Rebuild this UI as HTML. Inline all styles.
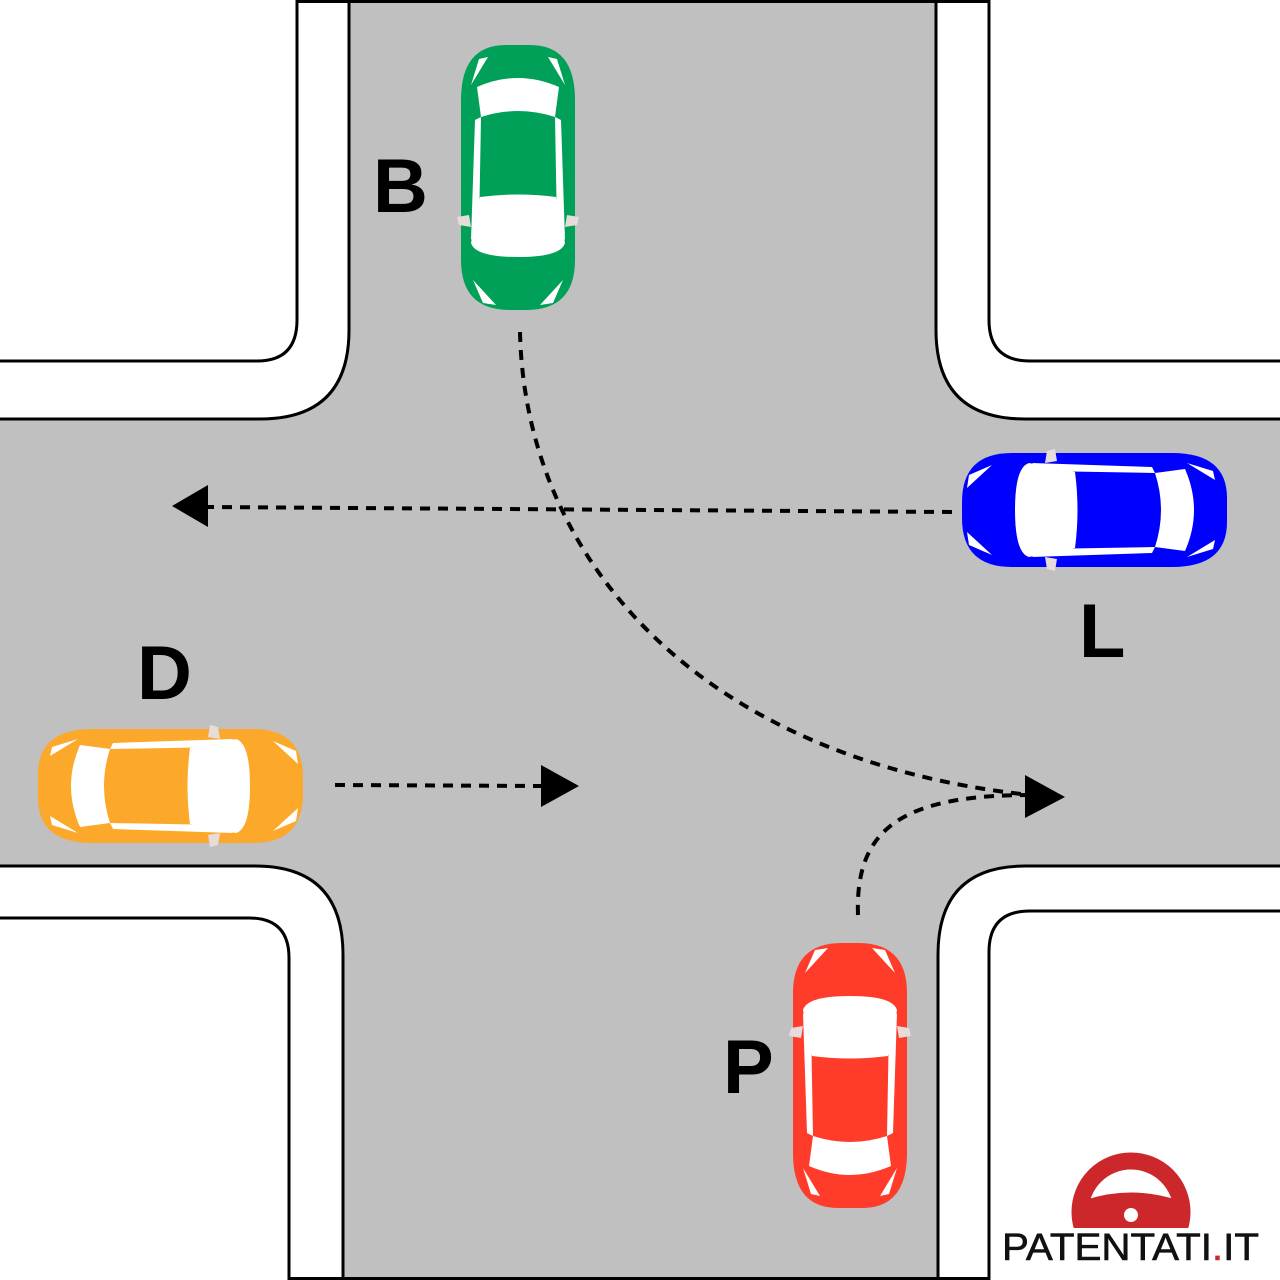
<!DOCTYPE html>
<html><head><meta charset="utf-8"><style>
html,body{margin:0;padding:0;background:#fff}
svg{display:block}
</style></head><body>
<svg width="1280" height="1280" viewBox="0 0 1280 1280" xmlns="http://www.w3.org/2000/svg">
<defs>
<g id="car">
  <path d="M45,0 H69 Q114,0 114,55 V215 Q114,265 65,265 H49 Q0,265 0,215 V55 Q0,0 45,0 Z" fill="currentColor"/>
  <path d="M16,42 Q57,24 98,42 L94,72 Q57,60 20,72 Z" fill="#fff"/>
  <path d="M19,152 Q57,147 95,152 L104,198 Q100,212 57,212 Q14,212 10,198 Z" fill="#fff"/>
  <path d="M14,75 L20,72 L18,185 L10,195 Z" fill="#fff"/>
  <path d="M100,75 L94,72 L96,185 L104,195 Z" fill="#fff"/>
  <path d="M10,40 L27,12 L18,14 Z" fill="#fff"/>
  <path d="M104,40 L87,12 L96,14 Z" fill="#fff"/>
  <path d="M12,235 L35,260 L22,258 Z" fill="#fff"/>
  <path d="M102,235 L79,260 L92,258 Z" fill="#fff"/>
  <path d="M-4,172 L8,170 L10,182 L-2,180 Z" fill="#e6dcdc"/>
  <path d="M118,172 L106,170 L104,182 L116,180 Z" fill="#e6dcdc"/>
</g>
<clipPath id="lc"><rect x="1060" y="1140" width="150" height="88"/></clipPath>
</defs>
<rect width="1280" height="1280" fill="#fff"/>
<path d="M349,0 H936 V330 Q936,419 1025,419 H1280 V866 H1025 Q938,866 938,955 V1280 H343 V955 Q343,866 255,866 H0 V419 H260 Q349,419 349,330 Z" fill="#c0c0c0"/>
<g fill="none" stroke="#000" stroke-width="3">
  <path d="M349,0 V330 Q349,419 260,419 H0"/>
  <path d="M297,0 V320 Q297,361 257,361 H0"/>
  <path d="M936,0 V330 Q936,419 1025,419 H1280"/>
  <path d="M989,0 V320 Q989,361 1030,361 H1280"/>
  <path d="M0,866 H255 Q343,866 343,955 V1280"/>
  <path d="M0,918 H249 Q289,918 289,958 V1280"/>
  <path d="M1280,866 H1025 Q938,866 938,955 V1280"/>
  <path d="M1280,911 H1030 Q989,911 989,952 V1280"/>
  <path d="M297,1.5 H989"/>
  <path d="M289,1278.5 H989"/>
</g>
<g fill="none" stroke="#000" stroke-width="4" stroke-dasharray="10 8">
  <path d="M520,332 C525,560 700,760 1030,795"/>
  <path d="M952,512 L205,507"/>
  <path d="M335,785 L545,786"/>
  <path d="M858,915 C855,830 900,795 1030,795"/>
</g>
<g fill="#000">
  <polygon points="1025,775 1065,797 1025,818"/>
  <polygon points="172,506 208,485 208,527"/>
  <polygon points="541,765 579,786 541,807"/>
</g>
<use href="#car" transform="translate(461,45)" color="#00a058"/>
<use href="#car" transform="translate(907,1208) rotate(180)" color="#ff3b2a"/>
<use href="#car" transform="translate(1227,453) rotate(90)" color="#0000ff"/>
<use href="#car" transform="translate(38,843) rotate(-90)" color="#fca82a"/>
<g font-family="Liberation Sans, sans-serif" font-weight="bold" font-size="76" fill="#000">
  <text x="373" y="212">B</text>
  <text x="137" y="699">D</text>
  <text x="1079" y="657">L</text>
  <text x="723" y="1093">P</text>
</g>
<g clip-path="url(#lc)">
  <circle cx="1131" cy="1212" r="51" fill="none" stroke="#cc282b" stroke-width="17"/>
  <path d="M1085,1200 Q1131,1185 1177,1200 L1180,1230 H1082 Z" fill="#cc282b"/>
  <circle cx="1131" cy="1215" r="7" fill="#fff"/>
</g>
<text x="1002" y="1260" font-family="Liberation Sans, sans-serif" font-size="38" fill="#111" stroke="#111" stroke-width="0.6" textLength="257" lengthAdjust="spacingAndGlyphs">PATENTATI<tspan fill="#cc282b" stroke="#cc282b">.</tspan>IT</text>
</svg>
</body></html>
